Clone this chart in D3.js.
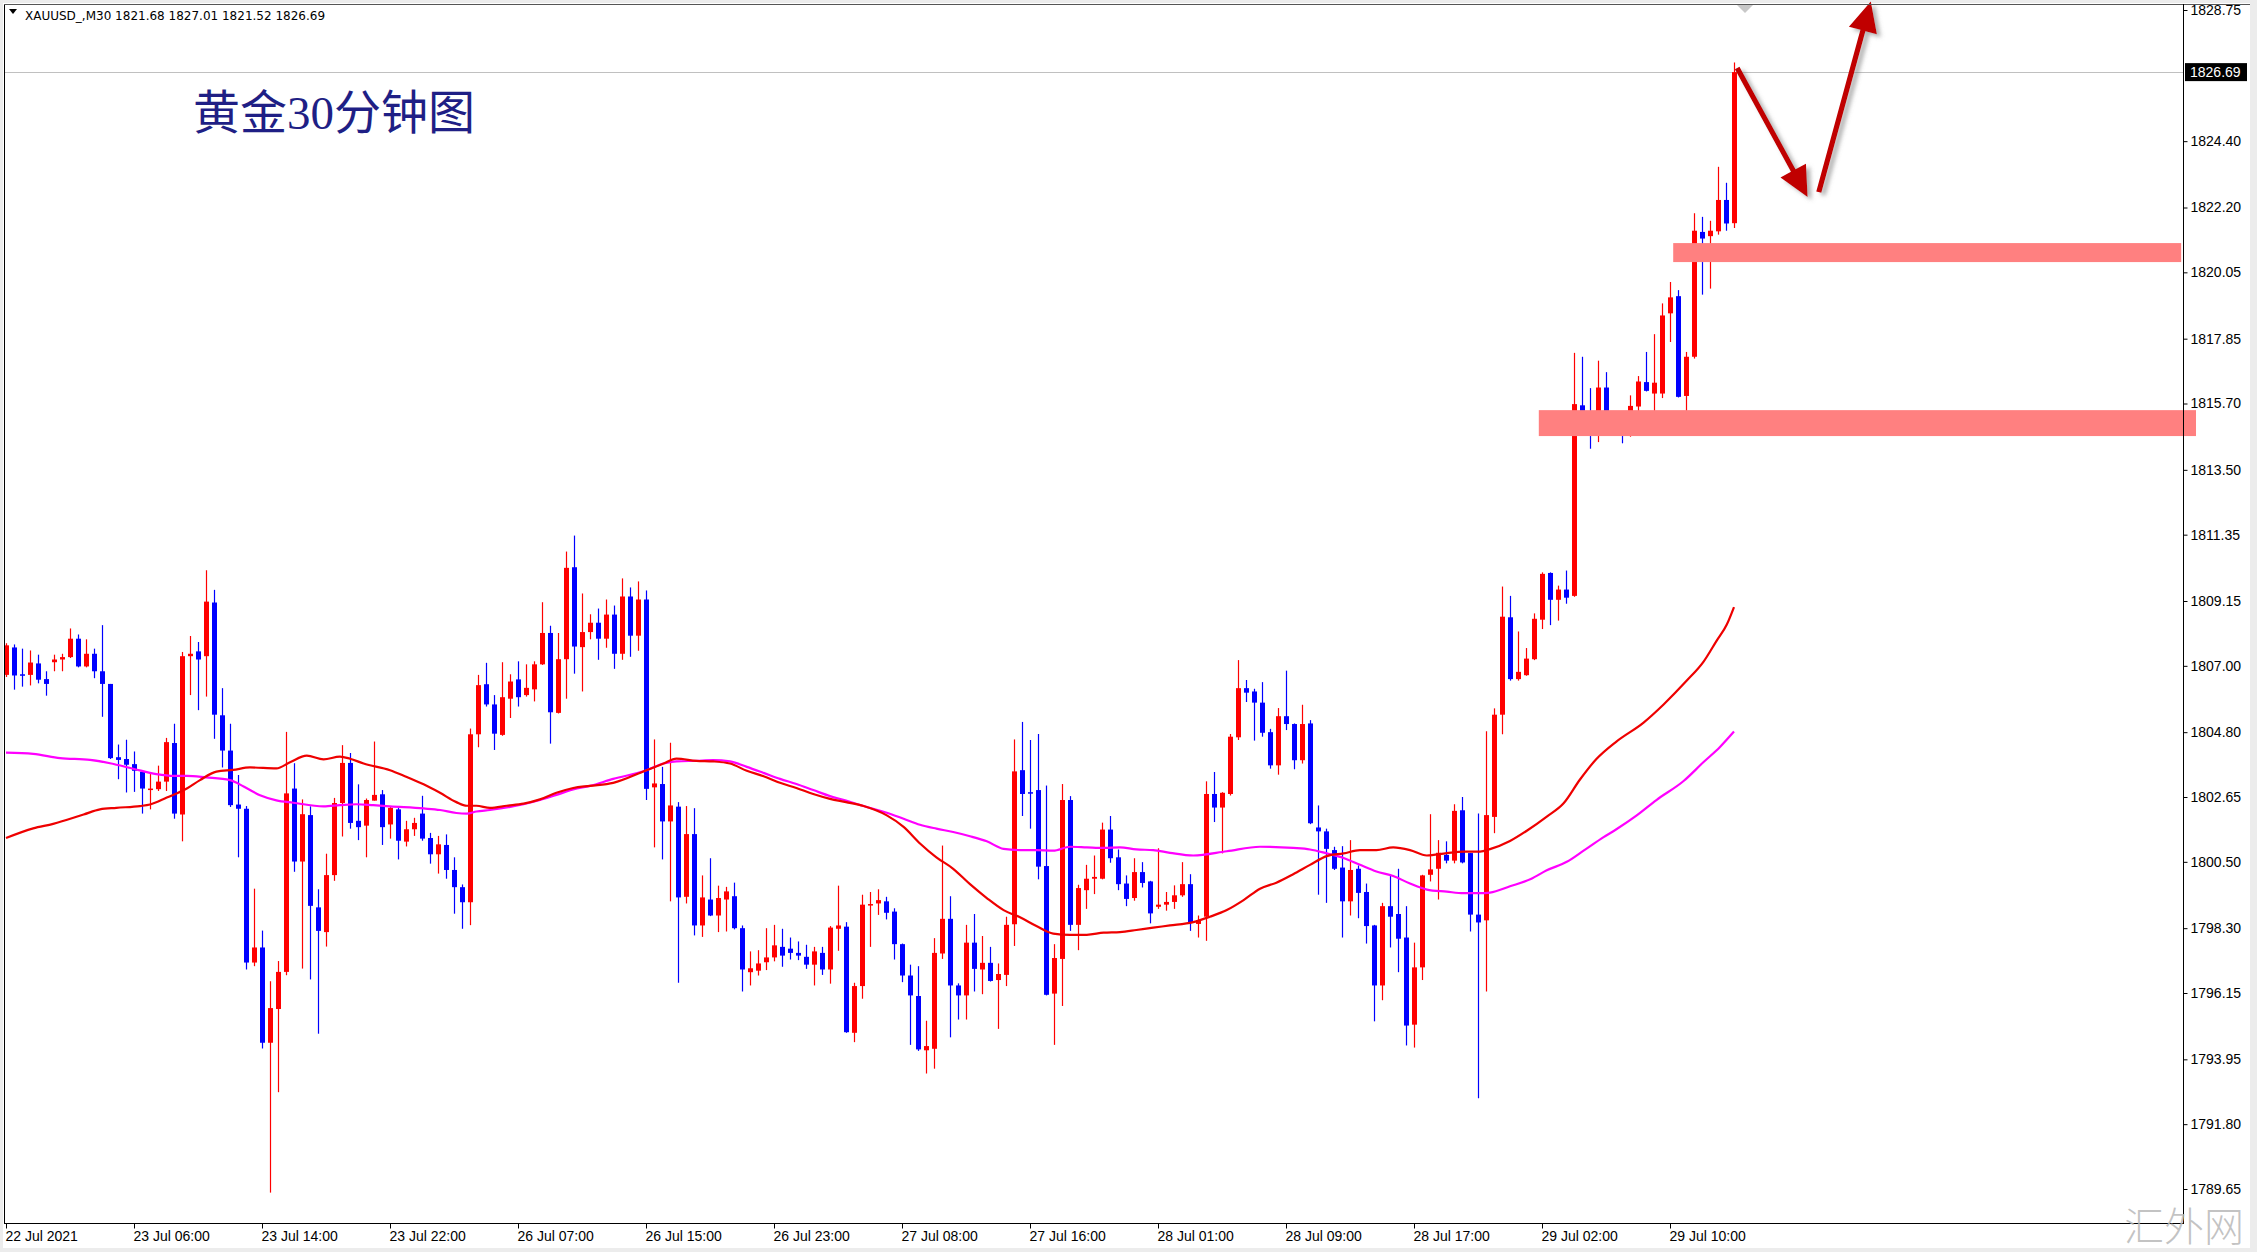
<!DOCTYPE html>
<html><head><meta charset="utf-8">
<script src="https://cdn.jsdelivr.net/npm/d3@7"></script>
<style>html,body{margin:0;padding:0;background:#fff;}svg{display:block;}</style>
</head><body>
<svg id="c" width="2257" height="1252"></svg>
<script>
// ---------------- DATA ----------------
const opens = [
1806.70,1807.61,1806.72,1806.70,1807.08,1806.56,1807.12,1807.21,1807.29,1807.90,
1806.98,1807.40,1806.82,1806.40,1803.97,1803.91,1803.74,1803.49,1802.88,1802.91,
1803.16,1804.44,1802.07,1807.32,1807.48,1807.32,1809.10,1805.36,1804.19,1802.40,
1802.26,1797.16,1797.66,1794.50,1795.62,1796.85,1802.93,1800.51,1802.05,1798.99,
1798.17,1800.06,1802.45,1803.78,1801.86,1801.70,1802.53,1802.74,1801.74,1802.24,
1801.17,1801.58,1802.10,1801.29,1800.75,1801.06,1800.23,1799.66,1799.16,1804.73,
1806.39,1805.72,1804.71,1805.91,1806.55,1806.03,1806.22,1807.05,1808.09,1805.44,
1807.22,1810.27,1807.62,1808.12,1808.43,1807.90,1808.70,1807.40,1809.30,1808.00,
1809.20,1802.97,1803.08,1801.84,1802.33,1799.34,1801.42,1798.39,1799.25,1798.72,
1799.25,1799.36,1798.30,1796.84,1796.89,1797.17,1797.33,1797.68,1797.62,1797.48,
1797.35,1797.09,1797.48,1796.93,1798.28,1798.35,1794.83,1796.38,1799.05,1799.12,
1799.19,1798.85,1797.77,1796.73,1796.05,1794.25,1794.30,1797.46,1798.61,1796.40,
1796.07,1797.82,1796.93,1797.15,1796.58,1796.75,1798.43,1803.54,1802.81,1802.88,
1800.36,1796.13,1797.28,1802.55,1798.41,1799.56,1799.94,1799.94,1801.57,1800.65,
1799.78,1799.30,1800.16,1799.85,1799.01,1799.08,1799.17,1799.39,1799.76,1798.44,
1798.68,1802.75,1802.30,1802.75,1804.63,1806.26,1806.15,1805.78,1804.80,1803.70,
1805.33,1805.07,1803.87,1805.09,1801.64,1801.51,1800.89,1800.31,1799.19,1800.27,
1799.50,1798.39,1796.40,1799.03,1798.77,1797.99,1795.10,1797.00,1800.07,1800.27,
1800.73,1800.54,1802.21,1800.79,1798.75,1798.56,1801.99,1805.38,1808.61,1806.56,
1806.69,1807.22,1808.53,1810.08,1809.19,1809.53,1809.32,1815.64,1815.44,1815.24,
1816.23,1815.17,1814.89,1814.64,1815.60,1816.41,1816.03,1816.03,1818.69,1819.26,
1815.95,1817.25,1821.39,1821.25,1821.41,1822.45,1821.68];
const highs = [
1807.75,1807.71,1807.57,1807.51,1807.37,1806.82,1807.37,1807.40,1808.24,1808.04,
1807.88,1807.57,1808.35,1806.40,1804.39,1804.55,1804.16,1803.49,1803.41,1803.69,
1804.61,1805.08,1807.46,1807.99,1807.79,1810.17,1809.52,1806.26,1805.08,1803.38,
1802.35,1799.61,1798.22,1796.54,1797.21,1804.81,1803.77,1802.57,1802.34,1799.59,
1800.77,1802.62,1804.37,1804.11,1803.07,1802.60,1804.49,1802.88,1802.34,1802.29,
1801.86,1801.96,1802.69,1801.46,1801.36,1801.41,1800.65,1799.75,1804.92,1806.70,
1807.10,1806.03,1807.12,1806.72,1807.15,1807.05,1807.15,1809.11,1808.33,1808.09,
1810.79,1811.32,1809.40,1808.71,1808.90,1809.20,1809.00,1809.90,1809.60,1809.80,
1809.50,1804.56,1803.65,1804.45,1802.48,1802.35,1802.28,1800.05,1800.62,1799.71,
1799.67,1799.81,1798.39,1797.53,1797.57,1798.30,1798.41,1798.28,1797.99,1797.86,
1797.75,1797.68,1797.68,1798.37,1799.71,1798.50,1796.49,1799.41,1799.50,1799.59,
1799.34,1798.96,1797.79,1797.09,1797.04,1795.23,1797.97,1801.04,1799.36,1796.47,
1798.41,1798.77,1798.04,1797.68,1797.13,1798.68,1804.56,1805.14,1804.54,1804.74,
1803.03,1797.77,1803.08,1802.68,1799.74,1800.40,1800.71,1801.80,1802.02,1800.91,
1800.05,1800.62,1800.49,1799.87,1800.95,1799.50,1799.72,1800.49,1800.09,1798.72,
1803.17,1803.48,1802.81,1804.74,1807.19,1806.53,1806.24,1806.46,1804.91,1805.60,
1806.84,1805.09,1805.71,1805.20,1802.37,1801.60,1801.00,1801.02,1801.22,1800.38,
1799.78,1798.41,1799.14,1800.05,1800.27,1799.03,1797.82,1800.07,1802.08,1801.22,
1801.18,1802.41,1802.65,1800.79,1802.10,1804.83,1805.59,1809.63,1809.32,1808.14,
1807.59,1808.74,1810.10,1810.10,1809.66,1810.16,1817.38,1817.25,1816.21,1817.12,
1816.74,1815.31,1815.11,1815.97,1816.61,1817.41,1818.00,1819.02,1819.73,1819.46,
1817.41,1822.01,1821.89,1821.76,1823.55,1823.02,1827.01];
const lows = [
1806.63,1806.21,1806.31,1806.35,1806.42,1806.01,1806.82,1806.82,1807.26,1806.95,
1806.95,1806.59,1805.31,1803.91,1803.24,1802.80,1802.82,1802.10,1802.24,1802.85,
1802.85,1801.93,1801.18,1806.03,1805.53,1805.98,1804.58,1803.63,1802.32,1800.65,
1796.93,1797.04,1794.31,1789.53,1792.86,1796.74,1800.17,1796.96,1796.60,1794.80,
1797.69,1799.87,1801.34,1801.60,1801.22,1800.65,1802.53,1801.06,1801.27,1800.58,
1801.01,1801.36,1801.20,1800.44,1800.11,1799.94,1798.78,1798.28,1798.40,1804.30,
1805.65,1804.21,1804.68,1805.27,1805.65,1805.98,1805.82,1807.03,1804.42,1805.42,
1805.91,1806.74,1806.15,1807.88,1807.20,1807.60,1806.90,1807.20,1807.30,1807.50,
1802.55,1800.98,1800.58,1799.19,1796.49,1799.12,1798.06,1798.01,1798.70,1798.17,
1798.19,1798.26,1796.20,1796.40,1796.73,1796.91,1797.20,1797.02,1797.26,1797.24,
1796.95,1796.40,1796.75,1796.46,1797.55,1794.83,1794.52,1795.96,1797.68,1798.74,
1798.59,1797.26,1796.51,1794.43,1794.23,1793.48,1793.64,1797.28,1794.68,1795.27,
1795.27,1796.20,1796.11,1796.53,1794.96,1796.38,1797.71,1802.02,1801.60,1799.92,
1796.07,1794.43,1795.72,1798.21,1797.57,1798.94,1799.43,1799.92,1800.47,1799.56,
1799.03,1799.21,1799.65,1798.46,1798.94,1798.88,1798.94,1799.34,1798.21,1797.99,
1797.88,1801.82,1800.78,1802.70,1804.54,1805.80,1804.52,1804.65,1803.59,1803.39,
1804.87,1803.57,1803.76,1801.75,1799.41,1799.14,1800.23,1797.99,1798.72,1798.63,
1797.79,1795.21,1795.91,1797.66,1796.84,1794.41,1794.34,1796.58,1799.85,1799.25,
1800.45,1800.45,1800.45,1798.19,1792.66,1796.20,1801.45,1804.73,1806.51,1806.51,
1806.67,1807.19,1808.22,1808.35,1808.50,1809.06,1809.29,1814.71,1814.20,1814.42,
1814.89,1814.71,1814.38,1814.60,1815.42,1816.10,1815.26,1815.88,1817.74,1815.90,
1815.04,1817.19,1819.31,1819.51,1821.30,1821.43,1821.52];
const closes = [
1807.68,1806.68,1806.68,1807.11,1806.54,1806.40,1807.21,1807.29,1807.90,1806.98,
1807.40,1806.82,1806.40,1803.94,1803.88,1803.72,1803.52,1802.93,1802.93,1803.16,
1804.47,1802.10,1807.32,1807.40,1807.21,1809.13,1805.38,1804.19,1802.38,1802.26,
1797.16,1797.66,1794.50,1795.65,1796.85,1802.77,1800.51,1802.08,1799.04,1798.21,
1800.06,1802.45,1803.78,1801.79,1801.65,1802.55,1802.72,1801.65,1802.29,1801.20,
1801.58,1801.79,1801.27,1800.75,1801.08,1800.23,1799.66,1799.16,1804.73,1806.36,
1805.72,1804.75,1805.96,1806.48,1805.96,1806.27,1807.05,1808.09,1805.46,1807.22,
1810.25,1807.64,1808.12,1808.43,1807.90,1808.70,1807.40,1809.30,1808.00,1809.20,
1802.92,1803.10,1801.84,1802.37,1799.32,1801.42,1798.39,1799.32,1798.72,1799.30,
1799.52,1798.30,1796.93,1796.97,1797.13,1797.33,1797.73,1797.39,1797.48,1797.39,
1797.09,1797.53,1796.93,1798.32,1798.39,1794.85,1796.38,1799.08,1799.10,1799.23,
1798.81,1797.77,1796.73,1796.07,1794.28,1794.39,1797.48,1798.61,1796.40,1796.07,
1797.82,1796.95,1797.15,1796.55,1796.78,1798.41,1803.50,1802.75,1802.77,1800.34,
1796.09,1797.31,1802.55,1798.41,1799.63,1799.94,1800.00,1801.57,1800.62,1799.76,
1799.27,1800.16,1799.80,1798.79,1799.08,1799.17,1799.39,1799.76,1798.50,1798.57,
1802.75,1802.30,1802.79,1804.65,1806.26,1806.11,1805.78,1804.78,1803.70,1805.33,
1805.07,1803.87,1805.07,1801.78,1801.51,1800.93,1800.27,1799.19,1800.23,1799.47,
1798.37,1796.40,1799.03,1798.68,1797.95,1795.07,1797.00,1800.05,1800.25,1800.80,
1800.54,1802.19,1800.48,1798.75,1798.49,1802.05,1805.38,1808.63,1806.56,1806.80,
1807.24,1808.56,1810.05,1809.19,1809.53,1809.26,1815.68,1815.44,1815.24,1816.23,
1815.06,1814.93,1814.64,1815.62,1816.43,1816.12,1816.39,1818.62,1819.22,1815.92,
1817.25,1821.43,1821.17,1821.43,1822.45,1821.67,1826.69];

const priceTicks = [1828.75,1824.40,1822.20,1820.05,1817.85,1815.70,1813.50,1811.35,1809.15,
  1807.00,1804.80,1802.65,1800.50,1798.30,1796.15,1793.95,1791.80,1789.65];
const timeLabels = ['22 Jul 2021','23 Jul 06:00','23 Jul 14:00','23 Jul 22:00','26 Jul 07:00',
  '26 Jul 15:00','26 Jul 23:00','27 Jul 08:00','27 Jul 16:00','28 Jul 01:00','28 Jul 09:00',
  '28 Jul 17:00','29 Jul 02:00','29 Jul 10:00'];
const timeLabelBars = [0,16,32,48,64,80,96,112,128,144,160,176,192,208];

const maRedBar = [0,3.4,5.9,9.7,11.75,13.8,16.75,18,20.1,22.6,24.25,26.3,28.4,30.5,33.8,35.5,37.6,39.7,41.75,43,44.7,48,50.1,52.2,54.25,56.3,57.6,58.8,60.5,62.6,64.7,66.75,68.8,70.9,73,75.9,79.9,82.2,83.8,86.3,88.4,90.5,92.6,94.7,96.75,98.8,100.9,103,105,107.2,110.1,112.2,114.25,116.3,118.4,120.5,122.6,124.7,126.75,128.8,130.9,133,135.1,137.2,139.25,141.3,143.4,145.5,148.4,150.5,152.6,154.7,156.75,158.8,160.9,163,165.1,167.2,169.25,171.3,173.4,175.5,177.6,180.1,182.2,184.25,185.5,188,190.1,192.6,194.7,196.75,198.8,201.3,204.7,207.2,210.1,212.2,213.8,215.1,216];
const maRedVal = [1801.29,1801.61,1801.76,1802.07,1802.24,1802.29,1802.35,1802.40,1802.63,1802.93,1803.21,1803.49,1803.55,1803.63,1803.60,1803.80,1804.02,1803.90,1803.99,1803.92,1803.76,1803.54,1803.31,1803.07,1802.79,1802.48,1802.36,1802.36,1802.29,1802.36,1802.43,1802.57,1802.79,1802.95,1803.02,1803.12,1803.52,1803.76,1803.92,1803.85,1803.83,1803.76,1803.52,1803.34,1803.12,1802.95,1802.75,1802.59,1802.48,1802.35,1802.04,1801.66,1801.11,1800.65,1800.27,1799.76,1799.30,1798.90,1798.66,1798.37,1798.12,1798.08,1798.08,1798.15,1798.17,1798.24,1798.32,1798.39,1798.50,1798.68,1798.90,1799.23,1799.61,1799.81,1800.09,1800.40,1800.69,1800.78,1800.89,1800.89,1800.98,1800.89,1800.71,1800.79,1800.84,1800.84,1800.92,1801.19,1801.53,1802.00,1802.44,1803.23,1803.91,1804.49,1805.12,1805.72,1806.51,1807.14,1807.82,1808.37,1808.95];
const maMagBar = [0,3.4,6.75,10.5,13,16,18.8,21,22.6,25,28,29.7,31.75,33.8,35.9,39.7,41.75,43.8,45.9,48,52.2,54.25,56.3,57.6,58.8,60.5,64.7,66.75,68.8,70.9,73,75.9,79.9,82.2,83.8,86.3,88.4,90.5,92.6,94.7,96.75,98.8,100.9,103,105,107.2,110.1,112.2,114.25,116.3,118.4,120.5,122.6,124.7,126.75,128.8,130.9,133,135.1,137.2,139.25,141.3,143.4,145.5,148.4,152.6,156.75,160.9,163,165.1,167.2,169.25,171.3,173.4,175.5,177.6,180.1,182.2,184.25,185.5,188,190.6,192.6,195.1,197.2,199.7,201.3,203.8,206.3,209.7,212.2,214.25,216];
const maMagVal = [1804.12,1804.08,1803.94,1803.88,1803.77,1803.58,1803.41,1803.35,1803.35,1803.30,1803.21,1803.00,1802.71,1802.54,1802.46,1802.34,1802.38,1802.41,1802.38,1802.34,1802.27,1802.22,1802.12,1802.10,1802.17,1802.22,1802.41,1802.55,1802.72,1802.90,1803.02,1803.25,1803.52,1803.76,1803.83,1803.85,1803.87,1803.83,1803.65,1803.45,1803.25,1803.08,1802.88,1802.68,1802.53,1802.35,1802.13,1801.93,1801.73,1801.60,1801.49,1801.35,1801.18,1800.93,1800.89,1800.89,1800.87,1801.00,1800.98,1800.96,1800.98,1800.91,1800.89,1800.80,1800.71,1800.85,1801.00,1800.96,1800.91,1800.78,1800.63,1800.40,1800.18,1800.03,1799.78,1799.58,1799.51,1799.46,1799.46,1799.48,1799.69,1799.93,1800.22,1800.50,1800.87,1801.32,1801.58,1802.03,1802.55,1803.18,1803.81,1804.31,1804.82];

const zoneStartBar = [208.4, 191.6];
const zoneEndBar = [271.9, 273.75];
const zoneTop = [1821.02, 1815.48];
const zoneBottom = [1820.39, 1814.62];

const arrowFromBar = [216.4, 226.6];
const arrowFromPrice = [1826.83, 1822.71];
const arrowToBar = [225.2, 233.1];
const arrowToPrice = [1822.55, 1829.03];

const lastPrice = 1826.69;
const headerText = 'XAUUSD_,M30  1821.68 1827.01 1821.52 1826.69';
const titleText = '黄金30分钟图';
const watermark = '汇外网';

// ---------------- LAYOUT ----------------
const W = 2257, H = 1252;
const plotL = 4, plotT = 4, plotR = 2183, plotB = 1223;
const x = d3.scaleLinear().domain([0, 216]).range([6, 1734]);
const y = d3.scaleLinear().domain([1789.65, 1828.75]).range([1189, 10]);
const AX_FONT = "'Liberation Sans', Arial, sans-serif";

const svg = d3.select('#c');
const defs = svg.append('defs');
defs.append('clipPath').attr('id', 'plotclip').append('rect')
  .attr('x', plotL + 1).attr('y', plotT + 1).attr('width', plotR - plotL - 1).attr('height', plotB - plotT - 1);
const f = defs.append('filter').attr('id', 'shadow').attr('x', '-20%').attr('y', '-20%').attr('width', '140%').attr('height', '140%');
f.append('feDropShadow').attr('dx', 4).attr('dy', 3).attr('stdDeviation', 2.2)
  .attr('flood-color', '#707070').attr('flood-opacity', 0.55);

// window
svg.append('rect').attr('width', W).attr('height', H).attr('fill', '#ececec');
svg.append('rect').attr('x', 3).attr('y', 3).attr('width', 2247).attr('height', 1245).attr('fill', '#ffffff');

const plot = svg.append('g').attr('clip-path', 'url(#plotclip)');

// zones
zoneTop.forEach((t, i) => {
  const x0 = x(zoneStartBar[i]), x1 = x(zoneEndBar[i]);
  svg.append('rect').attr('x', x0).attr('y', y(t)).attr('width', x1 - x0)
    .attr('height', y(zoneBottom[i]) - y(t)).attr('fill', '#ff8080');
});

// last price line
plot.append('line').attr('x1', plotL).attr('x2', plotR)
  .attr('y1', Math.round(y(lastPrice)) + 0.5).attr('y2', Math.round(y(lastPrice)) + 0.5)
  .attr('stroke', '#c0c0c0').attr('stroke-width', 1);

// candles
const idx = d3.range(opens.length);
const col = i => closes[i] >= opens[i] ? '#ff0000' : '#0000ff';
plot.append('g').selectAll('line').data(idx).join('line')
  .attr('x1', i => Math.round(x(i)) + 0.5).attr('x2', i => Math.round(x(i)) + 0.5)
  .attr('y1', i => y(highs[i])).attr('y2', i => y(lows[i]))
  .attr('stroke', col).attr('stroke-width', 1.2);
plot.append('g').selectAll('rect').data(idx).join('rect')
  .attr('x', i => Math.round(x(i)) - 2).attr('width', 5)
  .attr('y', i => y(Math.max(opens[i], closes[i])))
  .attr('height', i => Math.max(1.5, Math.abs(y(opens[i]) - y(closes[i]))))
  .attr('fill', col);

// moving averages
const maLine = d3.line().x(d => x(d[0])).y(d => y(d[1])).curve(d3.curveMonotoneX);
plot.append('path').attr('d', maLine(maMagBar.map((b, i) => [b, maMagVal[i]])))
  .attr('fill', 'none').attr('stroke', '#ff00ff').attr('stroke-width', 2.2);
plot.append('path').attr('d', maLine(maRedBar.map((b, i) => [b, maRedVal[i]])))
  .attr('fill', 'none').attr('stroke', '#ee0000').attr('stroke-width', 2.2);

// arrows
const arrows = svg.append('g').attr('filter', 'url(#shadow)');
arrowFromBar.forEach((b, i) => {
  const p0 = [x(b), y(arrowFromPrice[i])];
  const p1 = [x(arrowToBar[i]), y(arrowToPrice[i])];
  const dx = p1[0] - p0[0], dy = p1[1] - p0[1], L = Math.hypot(dx, dy);
  const ux = dx / L, uy = dy / L, nx = -uy, ny = ux;
  const hl = 30, hw = 14.5, sw = 2.6;
  const bx = p1[0] - ux * hl, by = p1[1] - uy * hl;
  const pts = [
    [p0[0] + nx * sw, p0[1] + ny * sw], [bx + nx * sw, by + ny * sw], [bx + nx * hw, by + ny * hw],
    p1, [bx - nx * hw, by - ny * hw], [bx - nx * sw, by - ny * sw], [p0[0] - nx * sw, p0[1] - ny * sw]];
  arrows.append('path').attr('d', 'M' + pts.map(p => p.join(',')).join('L') + 'Z').attr('fill', '#c00000');
});

// frame lines
const fr = svg.append('g').attr('stroke', '#000').attr('stroke-width', 1).attr('shape-rendering', 'crispEdges');
fr.append('line').attr('x1', plotL + 0.5).attr('x2', plotL + 0.5).attr('y1', plotT).attr('y2', plotB);
fr.append('line').attr('x1', plotL).attr('x2', 2250).attr('y1', plotT + 0.5).attr('y2', plotT + 0.5).attr('stroke', '#555');
fr.append('line').attr('x1', plotR + 0.5).attr('x2', plotR + 0.5).attr('y1', plotT).attr('y2', plotB + 1);
fr.append('line').attr('x1', plotL).attr('x2', plotR + 1).attr('y1', plotB + 0.5).attr('y2', plotB + 0.5);

// price axis
const yAxis = d3.axisRight(y).tickValues(priceTicks).tickFormat(d => d.toFixed(2))
  .tickSize(4).tickPadding(3).tickSizeOuter(0);
const gy = svg.append('g').attr('transform', `translate(${plotR + 0.5},0)`).call(yAxis);
gy.select('.domain').remove();
gy.selectAll('line').attr('stroke', '#000');
gy.selectAll('text').attr('font-family', AX_FONT).attr('font-size', 14).attr('fill', '#000');

// time axis
const xAxis = d3.axisBottom(x).tickValues(timeLabelBars).tickFormat((d, i) => timeLabels[i])
  .tickSize(5).tickPadding(3).tickSizeOuter(0);
const gx = svg.append('g').attr('transform', `translate(0,${plotB + 0.5})`).call(xAxis);
gx.select('.domain').remove();
gx.selectAll('line').attr('stroke', '#000');
gx.selectAll('text').attr('font-family', AX_FONT).attr('font-size', 14).attr('fill', '#000')
  .attr('text-anchor', 'start').attr('x', -1);

// last price label
const ly = y(lastPrice);
svg.append('rect').attr('x', plotR + 2).attr('y', ly - 9).attr('width', 62).attr('height', 18).attr('fill', '#000');
svg.append('text').attr('x', plotR + 7).attr('y', ly).attr('dy', '0.35em').text(lastPrice.toFixed(2))
  .attr('font-family', AX_FONT).attr('font-size', 14).attr('fill', '#fff');

// header
svg.append('path').attr('d', 'M9,9 L17,9 L13,14 Z').attr('fill', '#000');
svg.append('text').attr('x', 25).attr('y', 20).text(headerText)
  .attr('font-family', "'DejaVu Sans', sans-serif").attr('font-size', 12).attr('fill', '#000');

// chart-shift marker
svg.append('path').attr('d', 'M1737,5 L1753,5 L1745,13 Z').attr('fill', '#c8c8c8');

// title
svg.append('text').attr('x', 193).attr('y', 129).text(titleText)
  .attr('font-family', "'Liberation Serif', 'Noto Sans CJK SC', serif").attr('font-size', 47).attr('fill', '#1f1f85');

// watermark
svg.append('text').attr('x', 2124).attr('y', 1241).text(watermark)
  .attr('font-family', "'Noto Sans CJK SC', sans-serif").attr('font-weight', 300).attr('font-size', 40)
  .attr('fill', '#b8b8b8').attr('fill-opacity', 0.85);
</script>
</body></html>
